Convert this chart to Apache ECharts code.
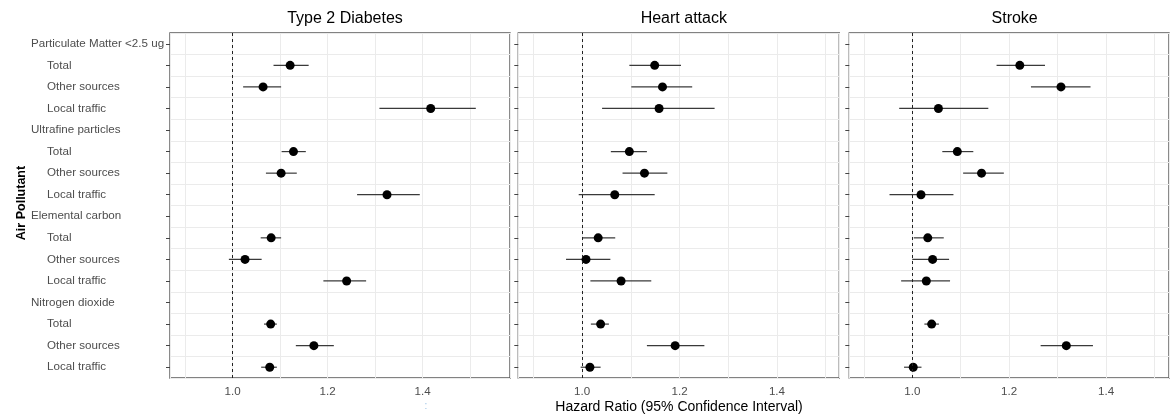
<!DOCTYPE html>
<html><head><meta charset="utf-8">
<script src="https://cdn.jsdelivr.net/npm/echarts@6/dist/echarts.min.js"></script>
<style>html,body{margin:0;padding:0;background:#fff}#c{width:1172px;height:419px}</style>
</head><body><div id="c"></div>
<script>
// ---- data ----
const outcomes = ['Type 2 Diabetes', 'Heart attack', 'Stroke'];
const pollutants = ['Particulate Matter <2.5 ug', 'Ultrafine particles', 'Elemental carbon', 'Nitrogen dioxide'];
const sources = ['Total', 'Other sources', 'Local traffic'];
const xTickLabels = [1.0, 1.2, 1.4];
const referenceHR = 1.0;

// order: PM(Total, Other, Local), UF(...), EC(...), NO2(...)
const diabetesHR   = [1.121, 1.064, 1.417, 1.128, 1.102, 1.325, 1.081, 1.026, 1.240, 1.080, 1.171, 1.078];
const diabetesLow  = [1.086, 1.022, 1.309, 1.103, 1.070, 1.262, 1.059, 0.992, 1.191, 1.066, 1.133, 1.060];
const diabetesHigh = [1.160, 1.102, 1.512, 1.154, 1.135, 1.394, 1.102, 1.061, 1.281, 1.093, 1.213, 1.093];

const heartHR   = [1.149, 1.165, 1.158, 1.097, 1.128, 1.067, 1.033, 1.008, 1.080, 1.038, 1.191, 1.016];
const heartLow  = [1.097, 1.101, 1.041, 1.059, 1.083, 0.993, 1.001, 0.967, 1.017, 1.018, 1.133, 0.997];
const heartHigh = [1.203, 1.226, 1.272, 1.133, 1.175, 1.149, 1.068, 1.058, 1.142, 1.055, 1.251, 1.038];

const strokeHR   = [1.222, 1.307, 1.054, 1.093, 1.143, 1.018, 1.032, 1.042, 1.029, 1.040, 1.318, 1.002];
const strokeLow  = [1.174, 1.245, 0.973, 1.062, 1.105, 0.953, 1.003, 1.000, 0.977, 1.025, 1.265, 0.983];
const strokeHigh = [1.274, 1.368, 1.157, 1.126, 1.189, 1.085, 1.065, 1.076, 1.078, 1.055, 1.373, 1.019];

// ---- build ----
const categories = [];
const isGroup = [];
pollutants.forEach(p => {
  categories.push(p); isGroup.push(true);
  sources.forEach(s => { categories.push(s); isGroup.push(false); });
});
function rowIndex(k) { return Math.floor(k / 3) * 4 + 1 + (k % 3); }

const panelData = [
  [diabetesHR, diabetesLow, diabetesHigh],
  [heartHR, heartLow, heartHigh],
  [strokeHR, strokeLow, strokeHigh]
];

const FONT = 'Liberation Sans, Arial, sans-serif';
const LABEL_SIZE = 11.6;
const layout = [
  { left: 170, width: 340, min: 0.868, max: 1.584 },
  { left: 518.3, width: 321, min: 0.869, max: 1.528 },
  { left: 849.3, width: 320.7, min: 0.870, max: 1.530 }
];
const TOP = 33, HEIGHT = 345;

const grids = [], xAxes = [], yAxes = [], series = [], titles = [];
layout.forEach((L, i) => {
  grids.push({ left: L.left, top: TOP, width: L.width, height: HEIGHT, show: true,
    borderColor: '#5a5a5a', borderWidth: 1.4, backgroundColor: 'transparent', containLabel: false });
  titles.push({ text: outcomes[i], left: L.left + L.width / 2, top: 6, textAlign: 'center',
    textStyle: { fontFamily: FONT, fontSize: 16, fontWeight: 'normal', color: '#000' } });
  xAxes.push({ type: 'value', gridIndex: i, min: L.min, max: L.max,
    axisLine: { show: false }, axisTick: { show: false },
    splitLine: { show: true, lineStyle: { color: '#ebebeb', width: 1 } },
    axisLabel: { color: '#4d4d4d', fontFamily: FONT, fontSize: LABEL_SIZE, margin: 8,
      showMinLabel: true, showMaxLabel: true,
      formatter: v => { const t = xTickLabels.find(t => Math.abs(t - v) < 1e-6); return t === undefined ? '' : t.toFixed(1); } } });
  yAxes.push({ type: 'category', gridIndex: i, data: categories, inverse: true, boundaryGap: true,
    axisLine: { show: false },
    axisTick: { show: true, alignWithLabel: true, length: 4, lineStyle: { color: '#444', width: 1 } },
    splitLine: { show: true, lineStyle: { color: '#ebebeb', width: 1 } },
    axisLabel: i === 0 ? {
      show: true, align: 'left', margin: 139, interval: 0,
      fontFamily: FONT, fontSize: LABEL_SIZE, color: '#4d4d4d',
      formatter: (v, idx) => isGroup[idx] ? '{g|' + v + '}' : '{s|' + v + '}',
      rich: { g: { fontFamily: FONT, fontSize: LABEL_SIZE, color: '#4d4d4d' },
              s: { fontFamily: FONT, fontSize: LABEL_SIZE, color: '#4d4d4d', padding: [0, 0, 0, 16] } }
    } : { show: false } });

  const [hr, lo, hi] = panelData[i];
  const ciData = hr.map((_, k) => [lo[k], hi[k], rowIndex(k)]);
  const ptData = hr.map((v, k) => [v, rowIndex(k)]);
  series.push({ type: 'custom', xAxisIndex: i, yAxisIndex: i, z: 3, silent: true,
    encode: { x: [0, 1], y: 2 }, data: ciData,
    renderItem: (params, api) => {
      const a = api.coord([api.value(0), api.value(2)]);
      const b = api.coord([api.value(1), api.value(2)]);
      return { type: 'line', shape: { x1: a[0], y1: a[1], x2: b[0], y2: b[1] },
        style: { stroke: '#3a3a3a', lineWidth: 1.2 } };
    } });
  series.push({ type: 'scatter', xAxisIndex: i, yAxisIndex: i, z: 4, silent: true,
    symbol: 'circle', symbolSize: 9, itemStyle: { color: '#000', opacity: 1 }, data: ptData,
    markLine: { silent: true, symbol: 'none', label: { show: false }, animation: false,
      lineStyle: { type: [3, 3], color: '#222', width: 1 }, data: [{ xAxis: referenceHR }] } });
});

const chart = echarts.init(document.getElementById('c'), null, { renderer: 'canvas' });
chart.setOption({
  animation: false,
  backgroundColor: '#fff',
  title: titles,
  grid: grids, xAxis: xAxes, yAxis: yAxes, series: series,
  graphic: [
    { type: 'text', x: 22, y: 203, rotation: Math.PI / 2,
      style: { text: 'Air Pollutant', fontFamily: FONT, fontSize: 12.5, fontWeight: 'bold', fill: '#000', align: 'center', verticalAlign: 'middle' } },
    { type: 'text', x: 679, y: 407,
      style: { text: 'Hazard Ratio (95% Confidence Interval)', fontFamily: FONT, fontSize: 14, fill: '#000', align: 'center', verticalAlign: 'middle' } },
    { type: 'text', x: 426, y: 406,
      style: { text: ':', fontFamily: FONT, fontSize: 10, fill: '#9dc3e6', align: 'center', verticalAlign: 'middle' } }
  ]
});
</script>
</body></html>
